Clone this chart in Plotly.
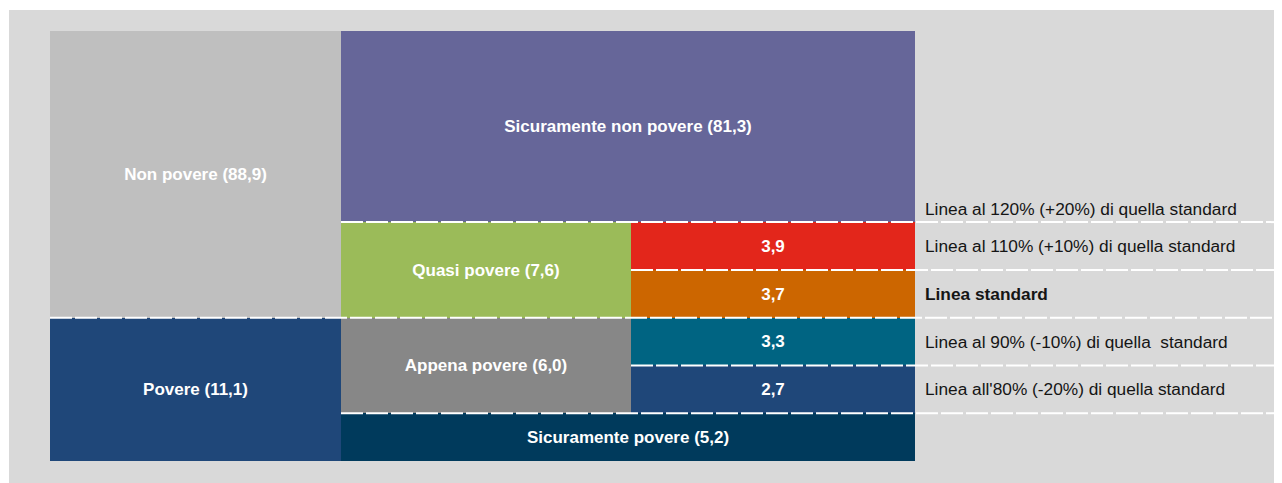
import plotly.graph_objects as go

# ---------------- data ----------------
cell_labels = ["Non povere (88,9)", "Povere (11,1)", "Sicuramente non povere (81,3)",
               "Quasi povere (7,6)", "3,9", "3,7", "Appena povere (6,0)", "3,3", "2,7",
               "Sicuramente povere (5,2)"]
# grid placement: first/last column index, first row, number of rows (schematic layout)
cell_col_start = [0, 0, 1, 1, 2, 2, 1, 2, 2, 1]
cell_col_end = [0, 0, 2, 1, 2, 2, 1, 2, 2, 2]
cell_row_start = [0, 6, 0, 4, 4, 5, 6, 6, 7, 8]
cell_rows = [6, 3, 4, 2, 1, 1, 2, 1, 1, 1]
cell_colors = ["#bfbfbf", "#1f4779", "#666699", "#9bbb59", "#e3261b", "#cc6600",
               "#878787", "#006482", "#1f4779", "#003a5c"]

line_labels = ["Linea al 120% (+20%) di quella standard",
               "Linea al 110% (+10%) di quella standard",
               "<b>Linea standard</b>",
               "Linea al 90% (-10%) di quella  standard",
               "Linea all'80% (-20%) di quella standard"]
line_rows = [4, 5, 6, 7, 8]
line_col_start = [1, 2, 0, 2, 1]
line_label_rows = [3.72, 4.5, 5.5, 6.5, 7.5]

# ---------------- layout constants ----------------
COL_EDGES = [0, 291, 581, 865]
X_MAX = 1232
N_ROWS = 9
FONT = "Liberation Sans, Arial, sans-serif"

xs, ws, bases, hs = [], [], [], []
for cs, ce, rs, nr in zip(cell_col_start, cell_col_end, cell_row_start, cell_rows):
    x0 = COL_EDGES[cs]
    x1 = COL_EDGES[ce + 1]
    xs.append((x0 + x1) / 2)
    ws.append(x1 - x0)
    bases.append(rs)
    hs.append(nr)

fig = go.Figure()
fig.add_trace(go.Bar(
    x=xs, y=hs, base=bases, width=ws,
    marker=dict(color=cell_colors, line=dict(width=0)),
    text=cell_labels, textposition="inside", insidetextanchor="middle",
    textangle=0, constraintext="none",
    textfont=dict(family=FONT, size=17, color="white", weight="bold"),
    hoverinfo="skip", showlegend=False,
))

for r, cs in zip(line_rows, line_col_start):
    fig.add_trace(go.Scatter(
        x=[COL_EDGES[cs], X_MAX], y=[r, r], mode="lines",
        line=dict(color="white", width=2, dash="22px,3px"),
        hoverinfo="skip", showlegend=False,
    ))

annotations = []
for lab, yr in zip(line_labels, line_label_rows):
    annotations.append(dict(
        x=COL_EDGES[-1] + 8, y=yr, xref="x", yref="y", text=lab,
        showarrow=False, xanchor="left", yanchor="middle",
        font=dict(family=FONT, size=17.3, color="#151515"),
    ))

# page has an 8px body margin; figure is sized so it fits the window
W, H = 1274, 475
ML, MR, MT, MB = 42, 0, 23, 22
pw, ph = W - ML - MR, H - MT - MB

fig.update_layout(
    width=W, height=H,
    margin=dict(l=ML, r=MR, t=MT, b=MB, pad=0),
    paper_bgcolor="white", plot_bgcolor="rgba(0,0,0,0)",
    barmode="overlay", bargap=0,
    xaxis=dict(range=[0, X_MAX], visible=False, fixedrange=True),
    yaxis=dict(range=[N_ROWS, 0], visible=False, fixedrange=True),
    annotations=annotations,
    shapes=[dict(type="rect", xref="paper", yref="paper", layer="below",
                 x0=(1 - ML) / pw, x1=1.0 + 5 / pw,
                 y0=-(MB + 5) / ph, y1=1 + (MT - 2) / ph,
                 fillcolor="#d9d9d9", line=dict(width=0))],
)

fig.write_html("out.html", config={"displayModeBar": False})
